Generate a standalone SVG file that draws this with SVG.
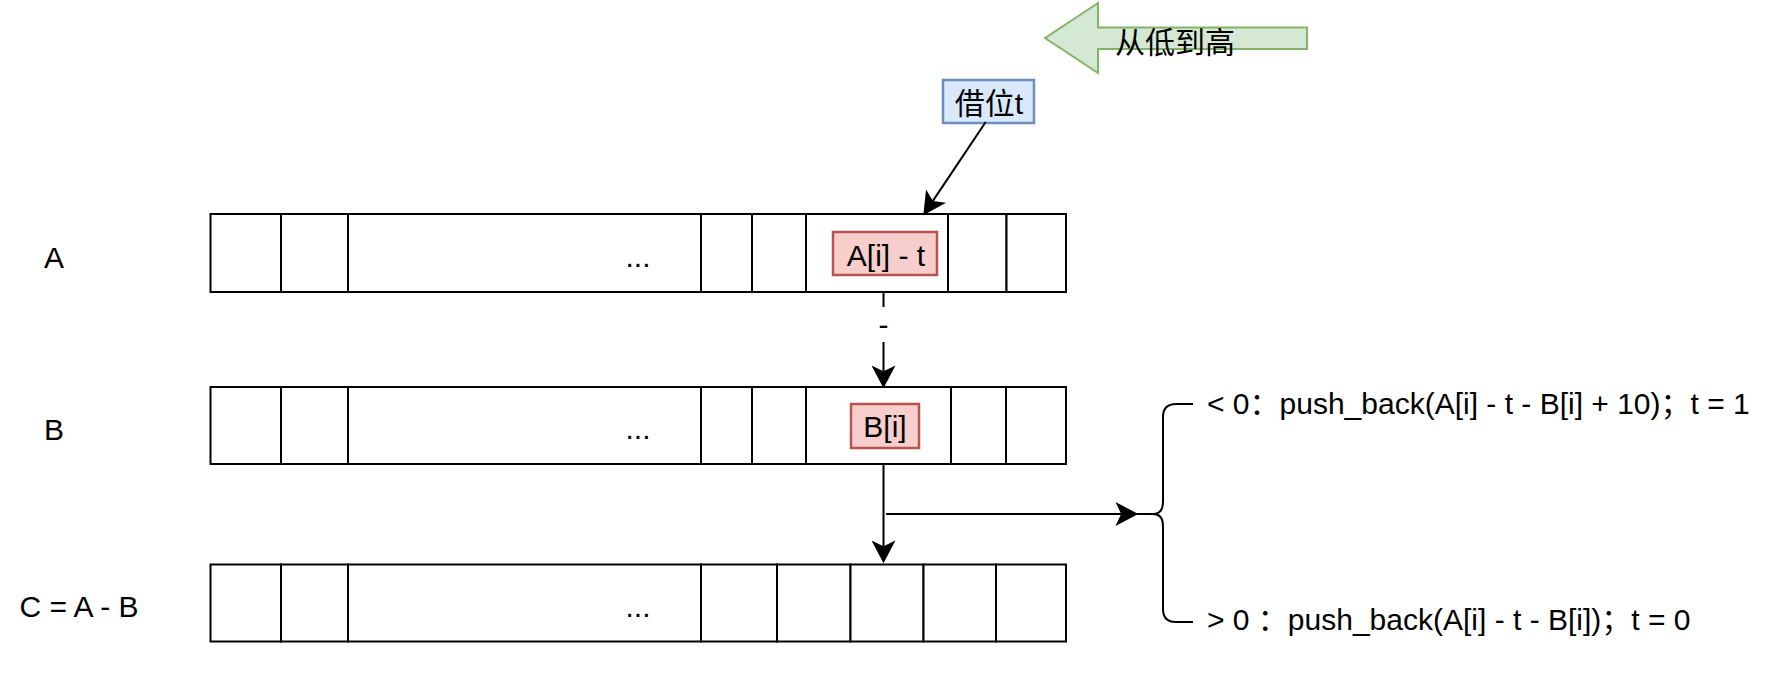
<svg xmlns="http://www.w3.org/2000/svg" width="1767" height="674" viewBox="0 0 1767 674">
<style>
text{font-family:"Liberation Sans","Noto Sans CJK SC",sans-serif;font-size:30px;fill:#000}
.cell{fill:#fff;stroke:#000;stroke-width:2}
.red{fill:#f8cecc;stroke:#b85450;stroke-width:2.5}
.blue{fill:#dae8fc;stroke:#6c8ebf;stroke-width:2.5}
.edge{fill:none;stroke:#000;stroke-width:2}
.mid{text-anchor:middle}
</style>
<defs>
<marker id="arr" markerUnits="userSpaceOnUse" markerWidth="24" markerHeight="24" viewBox="0 0 22 22" refX="6" refY="11" orient="auto">
<path d="M21,11 L0,0 L5.25,11 L0,22 Z" fill="#000"/>
</marker>
</defs>
<rect width="1767" height="674" fill="#fff"/>

<g id="direction">
<polygon points="1045,38 1098,3 1098,27.5 1307,27.5 1307,49 1098,49 1098,73" fill="#d5e8d4" stroke="#82b366" stroke-width="2"/>
<text x="1175" y="53" class="mid">从低到高</text>
</g>

<g id="label-A"><text x="54" y="268" class="mid">A</text></g>
<g id="label-B"><text x="54" y="440" class="mid">B</text></g>
<g id="label-C"><text x="79" y="617" class="mid">C = A - B</text></g>

<g id="row-A">
<rect class="cell" x="210.5" y="214" width="70.5" height="78"/>
<rect class="cell" x="281" y="214" width="67" height="78"/>
<rect class="cell" x="348" y="214" width="353" height="78"/>
<rect class="cell" x="701" y="214" width="51" height="78"/>
<rect class="cell" x="752" y="214" width="54" height="78"/>
<rect class="cell" x="806" y="214" width="142" height="78"/>
<rect class="cell" x="948" y="214" width="58.5" height="78"/>
<rect class="cell" x="1006.5" y="214" width="59.5" height="78"/>
<text x="638" y="267" class="mid">...</text>
</g>

<g id="row-B">
<rect class="cell" x="210.5" y="387" width="70.5" height="77"/>
<rect class="cell" x="281" y="387" width="67" height="77"/>
<rect class="cell" x="348" y="387" width="353" height="77"/>
<rect class="cell" x="701" y="387" width="51" height="77"/>
<rect class="cell" x="752" y="387" width="54" height="77"/>
<rect class="cell" x="806" y="387" width="145" height="77"/>
<rect class="cell" x="951" y="387" width="55" height="77"/>
<rect class="cell" x="1006" y="387" width="60" height="77"/>
<text x="638" y="439" class="mid">...</text>
</g>

<g id="row-C">
<rect class="cell" x="210.5" y="564.5" width="70.5" height="77"/>
<rect class="cell" x="281" y="564.5" width="67" height="77"/>
<rect class="cell" x="348" y="564.5" width="353" height="77"/>
<rect class="cell" x="701" y="564.5" width="76" height="77"/>
<rect class="cell" x="777" y="564.5" width="73.5" height="77"/>
<rect class="cell" x="850.5" y="564.5" width="73" height="77"/>
<rect class="cell" x="923.5" y="564.5" width="72.5" height="77"/>
<rect class="cell" x="996" y="564.5" width="70" height="77"/>
<text x="638" y="617" class="mid">...</text>
</g>

<g id="borrow">
<rect class="blue" x="943" y="80" width="91" height="43"/>
<text x="989" y="114" class="mid">借位t</text>
</g>

<g id="a-minus-t">
<rect class="red" x="833" y="232" width="104" height="43"/>
<text x="886" y="266" class="mid">A[i] - t</text>
</g>

<g id="b-i">
<rect class="red" x="851" y="404" width="68" height="44"/>
<text x="885" y="437" class="mid">B[i]</text>
</g>

<g id="connectors">
<path class="edge" d="M985.7,122 L932.4,201.6" marker-end="url(#arr)"/>
<path class="edge" d="M883.5,292 V372" marker-end="url(#arr)"/>
<rect x="874" y="307" width="19" height="35" fill="#fff"/>
<text x="883.5" y="335" class="mid">-</text>
<path class="edge" d="M883.5,464 V547" marker-end="url(#arr)"/>
<path class="edge" d="M886,514 H1122" marker-end="url(#arr)"/>
</g>

<g id="brace">
<path class="edge" d="M1193,404 H1176 Q1163,404 1163,417 V502 Q1163,514 1153,514 H1137 M1153,514 Q1163,514 1163,526 V609 Q1163,622 1176,622 H1193"/>
</g>

<g id="case-neg"><text x="1207" y="414">&lt; 0：push_back(A[i] - t - B[i] + 10)；t = 1</text></g>
<g id="case-pos"><text x="1207" y="630">&gt; 0 ：push_back(A[i] - t - B[i])；t = 0</text></g>
</svg>
